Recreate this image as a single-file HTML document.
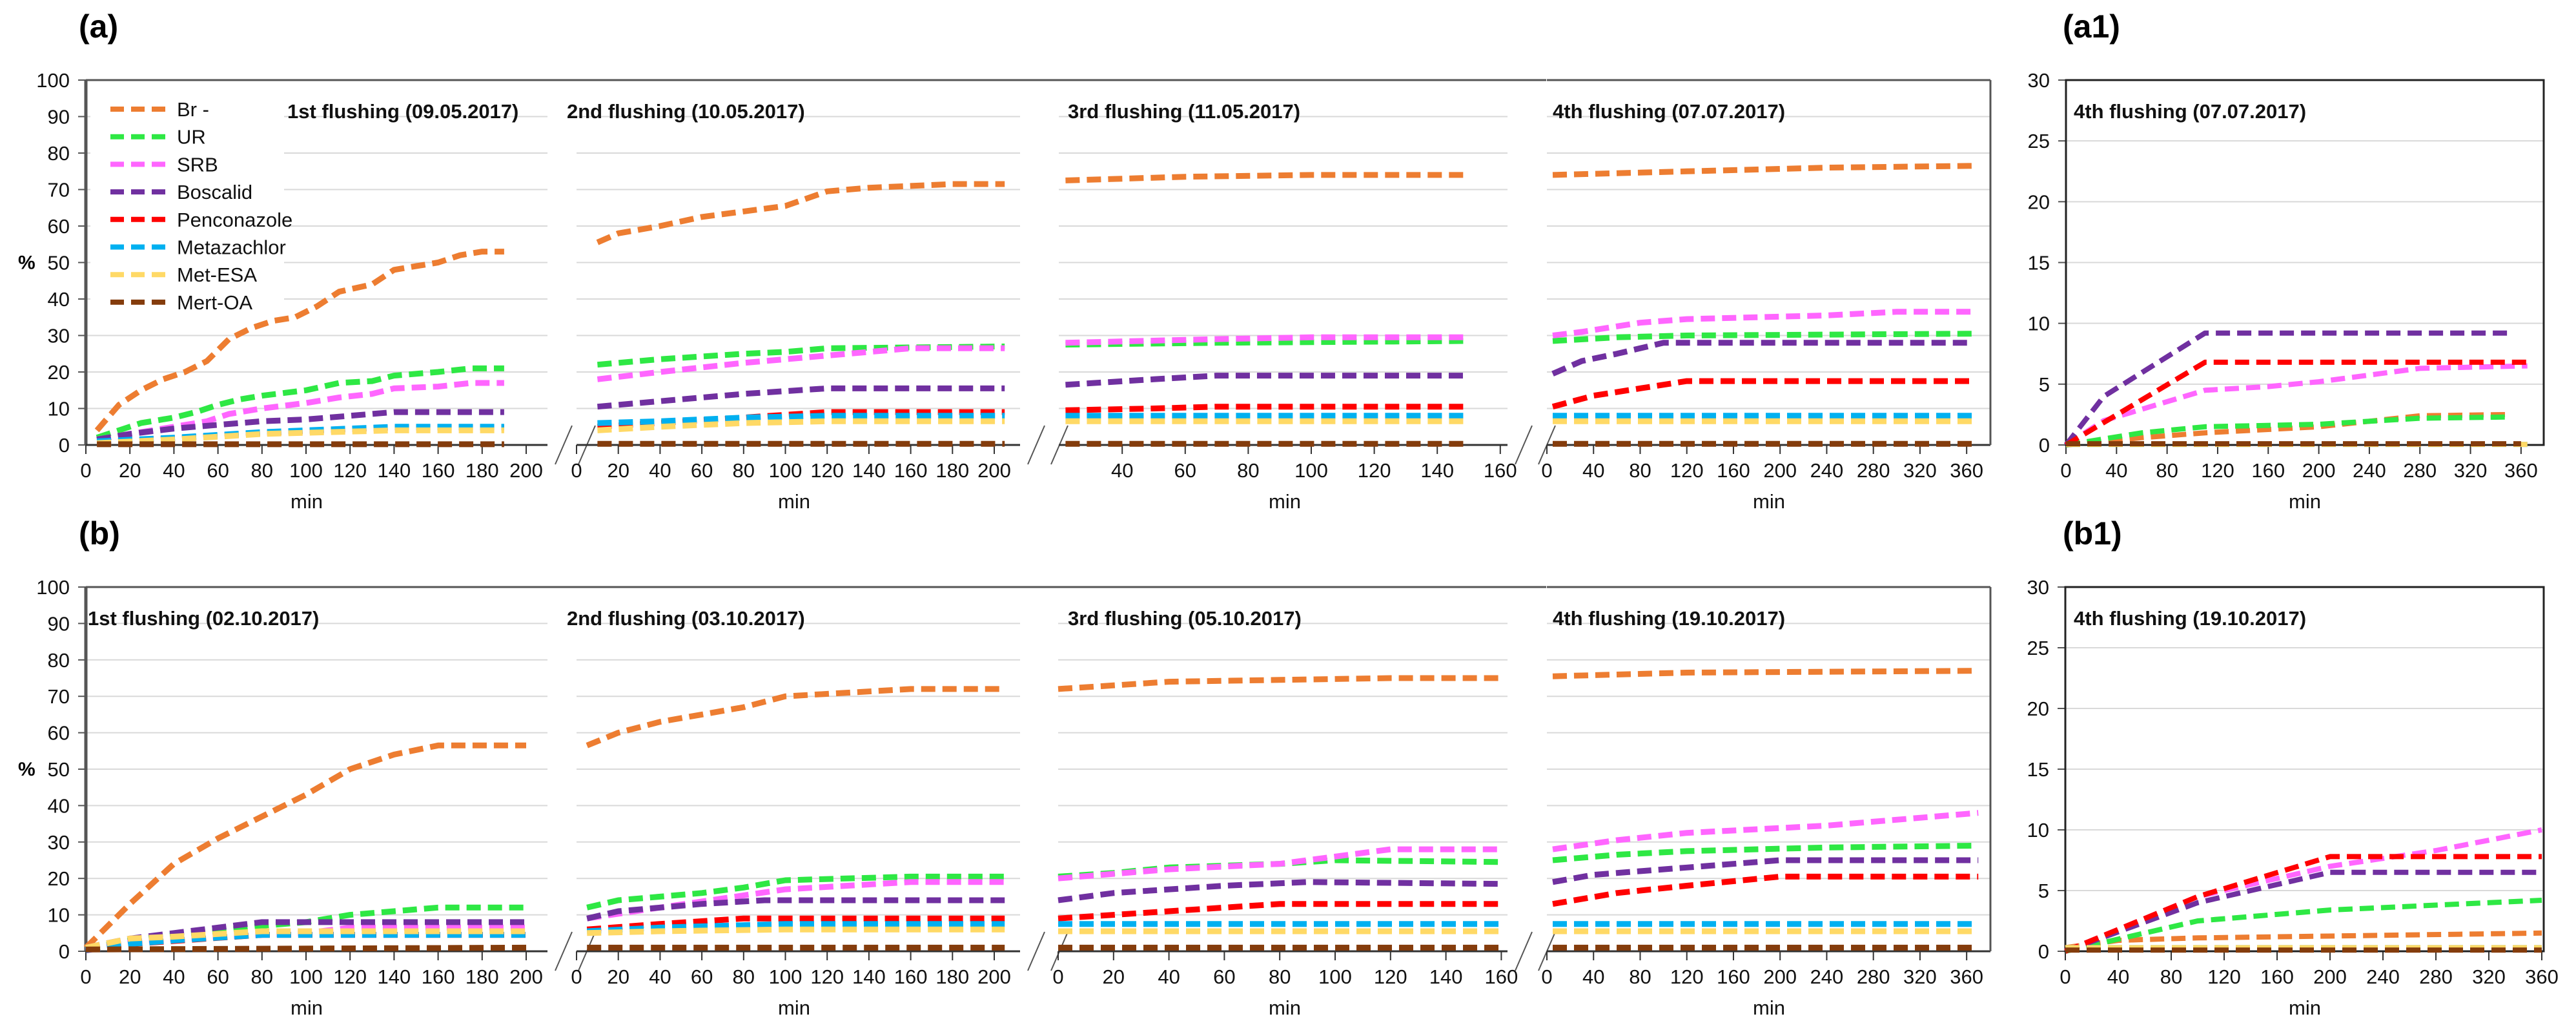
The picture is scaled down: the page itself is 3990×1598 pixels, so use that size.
<!DOCTYPE html>
<html><head><meta charset="utf-8"><style>
html,body{margin:0;padding:0;background:#fff;}
svg{display:block;font-family:"Liberation Sans",sans-serif;}
</style></head><body>
<svg id="chart" width="3990" height="1598" viewBox="0 0 3990 1598" xmlns="http://www.w3.org/2000/svg"></svg>
<script>
// ---- data: [minute, percent] ----
const a1_Br=[[5,4],[15,11],[25,15],[35,18],[45,20],[55,23],[65,29],[75,32],[85,34],[95,35],[105,38],[115,42],[130,44],[140,48],[150,49],[160,50],[170,52],[180,53],[190,53]];
const a1_UR=[[5,2],[15,4],[25,6],[40,7.5],[50,9],[60,11],[70,12.5],[80,13.5],[100,15],[115,17],[130,17.5],[140,19],[160,20],[175,21],[190,21]];
const a1_SRB=[[5,1.5],[20,3],[40,5],[55,6.5],[65,8.5],[80,10],[100,11.5],[115,13],[130,14],[140,15.5],[160,16],[175,17],[190,17]];
const a1_Bos=[[5,1.5],[20,3],[40,4.5],[60,5.5],[80,6.5],[100,7],[120,8],[140,9],[190,9]];
const a1_Pen=[[5,0.8],[40,1.8],[80,3.2],[100,3.8],[140,4.8],[190,4.8]];
const a1_Met=[[5,1],[40,2],[80,3.5],[100,4],[140,5],[190,5]];
const a1_ESA=[[5,0.5],[40,1.5],[80,3],[140,4],[190,4]];
const a1_OA=[[5,0.2],[190,0.2]];

const a2_Br=[[10,55.5],[20,58],[40,60],[60,62.5],[80,64],[100,65.5],[120,69.5],[140,70.5],[160,71],[180,71.5],[205,71.5]];
const a2_UR=[[10,22],[40,23.5],[80,25],[100,25.5],[120,26.5],[205,27]];
const a2_SRB=[[10,18],[40,20],[80,22.5],[120,24.5],[160,26.5],[205,26.5]];
const a2_Bos=[[10,10.5],[40,12],[80,14],[120,15.5],[205,15.5]];
const a2_Pen=[[10,5],[40,6],[80,7.5],[120,9],[205,9]];
const a2_Met=[[10,6],[40,6.5],[80,7.5],[120,8],[205,8]];
const a2_ESA=[[10,4],[40,5],[80,6],[120,6.5],[205,6.5]];
const a2_OA=[[10,0.3],[205,0.3]];

const a3_Br=[[22,72.5],[60,73.5],[100,74],[150,74]];
const a3_UR=[[22,27.5],[70,28],[150,28.5]];
const a3_SRB=[[22,28],[70,29],[100,29.5],[150,29.5]];
const a3_Bos=[[22,16.5],[50,18],[70,19],[150,19]];
const a3_Pen=[[22,9.5],[50,10],[70,10.5],[150,10.5]];
const a3_Met=[[22,8],[150,8]];
const a3_ESA=[[22,6.5],[150,6.5]];
const a3_OA=[[22,0.3],[150,0.3]];

const a4_Br=[[5,74],[120,75],[240,76],[365,76.5]];
const a4_UR=[[5,28.5],[60,29.5],[120,30],[365,30.5]];
const a4_SRB=[[5,30],[30,31],[80,33.5],[120,34.5],[240,35.5],[300,36.5],[365,36.5]];
const a4_Bos=[[5,19.5],[30,23],[60,25],[100,28],[365,28]];
const a4_Pen=[[5,10.5],[40,13.5],[120,17.5],[365,17.5]];
const a4_Met=[[5,8],[365,8]];
const a4_ESA=[[5,6.5],[365,6.5]];
const a4_OA=[[5,0.3],[365,0.3]];

const a5_Br=[[0,0],[60,0.6],[110,1],[200,1.5],[280,2.4],[350,2.5]];
const a5_UR=[[0,0],[60,1],[110,1.5],[200,1.7],[280,2.2],[350,2.3]];
const a5_SRB=[[0,0],[30,2],[110,4.5],[160,4.8],[200,5.2],[280,6.3],[365,6.5]];
const a5_Bos=[[0,0],[30,4],[110,9.2],[350,9.2]];
const a5_Pen=[[0,0],[110,6.8],[365,6.8]];
const a5_Met=[[0,0.05],[365,0.05]];
const a5_ESA=[[0,0.05],[365,0.05]];
const a5_OA=[[0,0.1],[360,0.1]];

const b1_Br=[[0,1],[20,13],[40,24],[60,31],[80,37],[100,43],[120,50],[140,54],[160,56.5],[200,56.5]];
const b1_UR=[[0,0.5],[20,3],[40,4.5],[60,5.5],[80,7],[100,8],[120,10],[140,11],[160,12],[200,12]];
const b1_SRB=[[0,0.2],[20,2.5],[60,4],[80,4.5],[100,5],[120,6.5],[200,6.5]];
const b1_Bos=[[0,1],[20,3.5],[40,5],[60,6.5],[80,8],[100,8],[200,8]];
const b1_Pen=[[0,0.5],[20,2],[80,4.5],[200,4.5]];
const b1_Met=[[0,0.3],[20,2],[40,3],[80,4.5],[200,4.5]];
const b1_ESA=[[0,1],[20,3.5],[40,4],[80,5.5],[200,5.5]];
const b1_OA=[[0,0.5],[200,1]];

const b2_Br=[[5,56.5],[20,60],[40,63],[80,67],[100,70],[160,72],[205,72]];
const b2_UR=[[5,12],[20,14],[60,16],[80,17.5],[100,19.5],[160,20.5],[205,20.5]];
const b2_SRB=[[5,9],[40,12],[100,17],[160,19],[205,19]];
const b2_Bos=[[5,9],[20,11],[60,13],[90,14],[205,14]];
const b2_Pen=[[5,6],[40,7.5],[80,9],[205,9]];
const b2_Met=[[5,5.5],[40,6.5],[100,7.5],[205,7.5]];
const b2_ESA=[[5,5],[40,5.5],[100,6],[205,6]];
const b2_OA=[[5,1],[205,1]];

const b3_Br=[[0,72],[20,73],[40,74],[80,74.5],[120,75],[160,75]];
const b3_UR=[[0,20.5],[20,21.5],[40,23],[80,24],[100,25],[160,24.5]];
const b3_SRB=[[0,20],[40,22.5],[80,24],[120,28],[160,28]];
const b3_Bos=[[0,14],[20,16],[60,18],[90,19],[160,18.5]];
const b3_Pen=[[0,9],[40,11],[80,13],[160,13]];
const b3_Met=[[0,7.5],[160,7.5]];
const b3_ESA=[[0,5.5],[160,5.5]];
const b3_OA=[[0,1],[160,1]];

const b4_Br=[[5,75.5],[120,76.5],[370,77]];
const b4_UR=[[5,25],[60,26.5],[120,27.5],[240,28.5],[370,29]];
const b4_SRB=[[5,28],[60,30.5],[120,32.5],[240,34.5],[370,38]];
const b4_Bos=[[5,19],[40,21],[120,23],[200,25],[370,25]];
const b4_Pen=[[5,13],[60,16],[120,18],[200,20.5],[370,20.5]];
const b4_Met=[[5,7.5],[370,7.5]];
const b4_ESA=[[5,5.5],[370,5.5]];
const b4_OA=[[5,1],[370,1]];

const b5_Br=[[0,0.3],[40,0.9],[100,1.1],[360,1.5]];
const b5_UR=[[0,0],[100,2.5],[200,3.4],[360,4.2]];
const b5_SRB=[[0,0],[100,4.5],[200,7],[280,8.3],[360,10]];
const b5_Bos=[[0,0],[100,4],[200,6.5],[360,6.5]];
const b5_Pen=[[0,0],[100,4.5],[200,7.8],[360,7.8]];
const b5_Met=[[0,0.3],[360,0.3]];
const b5_ESA=[[0,0.3],[360,0.3]];
const b5_OA=[[0,0.1],[360,0.1]];

const seriesNames=["Br -","UR","SRB","Boscalid","Penconazole","Metazachlor","Met-ESA","Mert-OA"];
const seriesKeys=["br","ur","srb","boscalid","penconazole","metazachlor","met-esa","mert-oa"];
const colors=["#ed7d31","#2ee844","#ff66ff","#7030a0","#ff0000","#00b0f0","#ffd966","#843c0c"];
const titlesA=["1st flushing  (09.05.2017)","2nd flushing (10.05.2017)","3rd flushing (11.05.2017)","4th flushing (07.07.2017)","4th flushing (07.07.2017)"];
const titlesB=["1st flushing (02.10.2017)","2nd flushing (03.10.2017)","3rd flushing (05.10.2017)","4th flushing (19.10.2017)","4th flushing (19.10.2017)"];

const dataA=[[a1_Br,a1_UR,a1_SRB,a1_Bos,a1_Pen,a1_Met,a1_ESA,a1_OA],[a2_Br,a2_UR,a2_SRB,a2_Bos,a2_Pen,a2_Met,a2_ESA,a2_OA],[a3_Br,a3_UR,a3_SRB,a3_Bos,a3_Pen,a3_Met,a3_ESA,a3_OA],[a4_Br,a4_UR,a4_SRB,a4_Bos,a4_Pen,a4_Met,a4_ESA,a4_OA],[a5_Br,a5_UR,a5_SRB,a5_Bos,a5_Pen,a5_Met,a5_ESA,a5_OA]];
const dataB=[[b1_Br,b1_UR,b1_SRB,b1_Bos,b1_Pen,b1_Met,b1_ESA,b1_OA],[b2_Br,b2_UR,b2_SRB,b2_Bos,b2_Pen,b2_Met,b2_ESA,b2_OA],[b3_Br,b3_UR,b3_SRB,b3_Bos,b3_Pen,b3_Met,b3_ESA,b3_OA],[b4_Br,b4_UR,b4_SRB,b4_Bos,b4_Pen,b4_Met,b4_ESA,b4_OA],[b5_Br,b5_UR,b5_SRB,b5_Bos,b5_Pen,b5_Met,b5_ESA,b5_OA]];

// ---- layout ----
const NS="http://www.w3.org/2000/svg";
const svg=document.getElementById('chart');
function mk(tag,attrs,parent){const e=document.createElementNS(NS,tag);for(const k in attrs)e.setAttribute(k,attrs[k]);(parent||svg).appendChild(e);return e;}
function txt(s,attrs,parent){const e=mk('text',attrs,parent);e.textContent=s;return e;}

const rows=[
 {key:'a',label:'(a)',label1:'(a1)',top:124,bot:689,titles:titlesA,data:dataA,legend:true,
  panels:[
   {x0:133,k:3.41,ax0:133,ax1:848,ticks:[0,20,40,60,80,100,120,140,160,180,200],tx:445,minx:475},
   {x0:893,k:3.235,ax0:893,ax1:1580,ticks:[0,20,40,60,80,100,120,140,160,180,200],tx:878,minx:1230},
   {x0:1543,k:4.88,ax0:1640,ax1:2335,ticks:[40,60,80,100,120,140,160],tx:1654,minx:1990},
   {x0:2396,k:1.806,ax0:2396,ax1:3083,ticks:[0,40,80,120,160,200,240,280,320,360],tx:2405,minx:2740},
   {x0:3200,k:1.958,ax0:3200,ax1:3940,ticks:[0,40,80,120,160,200,240,280,320,360],tx:3212,minx:3570,small:true}
  ]},
 {key:'b',label:'(b)',label1:'(b1)',top:909,bot:1473,titles:titlesB,data:dataB,legend:false,
  panels:[
   {x0:133,k:3.41,ax0:133,ax1:848,ticks:[0,20,40,60,80,100,120,140,160,180,200],tx:136,minx:475},
   {x0:893,k:3.235,ax0:893,ax1:1580,ticks:[0,20,40,60,80,100,120,140,160,180,200],tx:878,minx:1230},
   {x0:1639,k:4.29,ax0:1639,ax1:2335,ticks:[0,20,40,60,80,100,120,140,160],tx:1654,minx:1990},
   {x0:2396,k:1.806,ax0:2396,ax1:3083,ticks:[0,40,80,120,160,200,240,280,320,360],tx:2405,minx:2740},
   {x0:3199,k:2.05,ax0:3199,ax1:3940,ticks:[0,40,80,120,160,200,240,280,320,360],tx:3212,minx:3570,small:true}
  ]}
];

rows.forEach(row=>{
  const g=mk('g',{});
  
  
  const L=txt(row.label,{x:122,y:row.top-66,'font-size':50,'font-weight':'bold'},g);
  
  
  const L1=txt(row.label1,{x:3195,y:row.top-66,'font-size':50,'font-weight':'bold'},g);
  
  
  const pct=txt('%',{x:28,y:(row.top+row.bot)/2+10,'font-size':30,'font-weight':'bold'},g);
  
  
  const H=row.bot-row.top;
  row.panels.forEach((p,pi)=>{
    const pg=mk('g',{},g);
    
    
    const ymax=p.small?30:100, ystep=p.small?5:10;
    const yS=v=>row.bot-v/ymax*H;
    const xS=m=>p.x0+m*p.k;
    for(let v=ystep;v<ymax;v+=ystep){
      const gl=mk('line',{x1:p.ax0,x2:p.ax1,y1:yS(v),y2:yS(v),stroke:'#d9d9d9','stroke-width':2},pg);
      
      
    }
    if(pi===0||p.small){
      const ax=mk('line',{x1:p.ax0,x2:p.ax0,y1:row.top,y2:row.bot,stroke:'#555','stroke-width':pi===0?5:3},pg);
      
      
      for(let v=0;v<=ymax;v+=ystep){
        mk('line',{x1:p.ax0-12,x2:p.ax0,y1:yS(v),y2:yS(v),stroke:'#555','stroke-width':2},pg);
        const t=txt(String(v),{x:p.ax0-25,y:yS(v)+11,'font-size':31,'text-anchor':'end',fill:'#111'},pg);
        
        
      }
    }
    const xa=mk('line',{x1:p.ax0,x2:p.ax1,y1:row.bot,y2:row.bot,stroke:'#333','stroke-width':3},pg);
    
    
    p.ticks.forEach(tv=>{
      mk('line',{x1:xS(tv),x2:xS(tv),y1:row.bot,y2:row.bot+14,stroke:'#333','stroke-width':2},pg);
      const t=txt(String(tv),{x:xS(tv),y:row.bot+50,'font-size':31,'text-anchor':'middle',fill:'#111'},pg);
      
      
    });
    const mn=txt('min',{x:p.minx,y:row.bot+98,'font-size':31,'text-anchor':'middle',fill:'#111'},pg);
    
    
    if(p.small){
      mk('rect',{x:p.ax0,y:row.top,width:p.ax1-p.ax0,height:H,fill:'none',stroke:'#222','stroke-width':3},pg);
    } else {
      mk('line',{x1:p.ax0,x2:(pi<3?p.ax1+60:p.ax1),y1:row.top,y2:row.top,stroke:'#555','stroke-width':3},pg);
      if(pi===3) mk('line',{x1:p.ax1,x2:p.ax1,y1:row.top,y2:row.bot,stroke:'#555','stroke-width':3},pg);
      if(pi<3){
        const bx=p.ax1+12;
        [0,36].forEach(d=>{
          const br=mk('line',{x1:bx+d,y1:row.bot+30,x2:bx+d+26,y2:row.bot-30,stroke:'#555','stroke-width':2},pg);
          
          
        });
      }
    }
    if(row.legend&&pi===0){
      const lg=mk('g',{},pg);
      
      
      mk('rect',{x:140,y:135,width:300,height:355,fill:'#fff'},lg);
      seriesNames.forEach((nm,i)=>{
        const yy=169+i*42.7;
        const le=mk('g',{},lg);
        
        
        mk('line',{x1:171,x2:256,y1:yy,y2:yy,stroke:colors[i],'stroke-width':8,'stroke-dasharray':'21 11','stroke-linecap':'butt'},le);
        txt(nm,{x:274,y:yy+11,'font-size':31,fill:'#111'},le);
      });
    }
    const tt=txt(row.titles[pi],{x:p.tx,y:row.top+59,'font-size':31,'font-weight':'bold',fill:'#111'},pg);
    
    
    row.data[pi].forEach((ser,si)=>{
      const pts=ser.map(d=>xS(d[0]).toFixed(1)+','+yS(d[1]).toFixed(1)).join(' ');
      const pl=mk('polyline',{points:pts,fill:'none',stroke:colors[si],'stroke-width':p.small?8:9,'stroke-dasharray':'22 11','stroke-linejoin':'round'},pg);
      
      
    });
  });
});
</script>
</body></html>
